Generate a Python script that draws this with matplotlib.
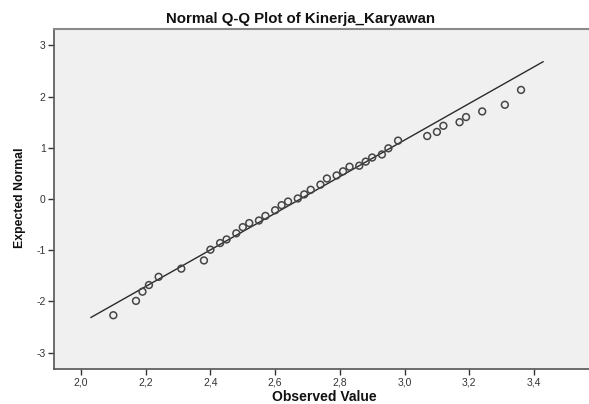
import matplotlib
matplotlib.use("Agg")
import matplotlib.pyplot as plt
import numpy as np

# Data
observed = [2.10, 2.17, 2.19, 2.21, 2.24, 2.31, 2.38, 2.40, 2.43, 2.45,
            2.48, 2.50, 2.52, 2.55, 2.57, 2.60, 2.62, 2.64, 2.67, 2.69,
            2.71, 2.74, 2.76, 2.79, 2.81, 2.83, 2.86, 2.88, 2.90, 2.93,
            2.95, 2.98, 3.07, 3.10, 3.12, 3.17, 3.19, 3.24, 3.31, 3.36]
expected = [-2.27, -1.99, -1.81, -1.68, -1.52, -1.36, -1.20, -0.99, -0.86, -0.79,
            -0.67, -0.55, -0.47, -0.42, -0.33, -0.22, -0.12, -0.05, 0.01, 0.09,
            0.18, 0.28, 0.40, 0.46, 0.54, 0.63, 0.65, 0.73, 0.81, 0.87,
            0.99, 1.14, 1.23, 1.31, 1.43, 1.50, 1.60, 1.71, 1.84, 2.13]
line_x = [2.031, 3.428]
mean_val = 2.678
sd_val = 0.2798
x_ticks = [2.0, 2.2, 2.4, 2.6, 2.8, 3.0, 3.2, 3.4]
y_ticks = [-3, -2, -1, 0, 1, 2, 3]
title = "Normal Q-Q Plot of Kinerja_Karyawan"

plt.rcParams['font.family'] = ['Liberation Sans', 'DejaVu Sans']

fig = plt.figure(figsize=(5.89, 4.04), dpi=100)
fig.patch.set_facecolor('white')
ax = fig.add_axes([54/589, 35/404, (598.7-54)/589, 340/404])
ax.set_facecolor('#F0F0F0')

lx = np.array(line_x)
ax.plot(lx, (lx - mean_val) / sd_val, color='#2a2a2a', lw=1.0, zorder=2)
ax.scatter(observed, expected, s=24, facecolors='none', edgecolors='#454545',
           linewidths=1.1, zorder=3)

ax.set_xlim(1.9166, 3.60)
ax.set_ylim(-3.32, 3.32)
ax.set_xticks(x_ticks)
ax.set_xticklabels([f"{v:.1f}".replace('.', ',') for v in x_ticks])
ax.set_yticks(y_ticks)
ax.set_yticklabels([str(v) for v in y_ticks])
ax.tick_params(axis='both', labelsize=7.5, colors='#333333', length=4, width=1,
               direction='out', pad=2)

for side in ['left', 'bottom']:
    ax.spines[side].set_color('#555555')
    ax.spines[side].set_linewidth(1.2)
ax.spines['top'].set_color('#8a8a8a')
ax.spines['top'].set_linewidth(1.5)
ax.spines['right'].set_visible(False)

fig.text(300/589, 1 - 19.5/404, title, ha='center', va='center',
         fontsize=10.8, fontweight='bold', color='#111111')
fig.text(20/589, 1 - 198/404, "Expected Normal", ha='center', va='center',
         rotation=90, fontsize=8.8, fontweight='bold', color='#111111')
fig.text(324/589, 1 - 397/404, "Observed Value", ha='center', va='center',
         fontsize=10, fontweight='bold', color='#111111')

fig.savefig('out.png', dpi=100)
